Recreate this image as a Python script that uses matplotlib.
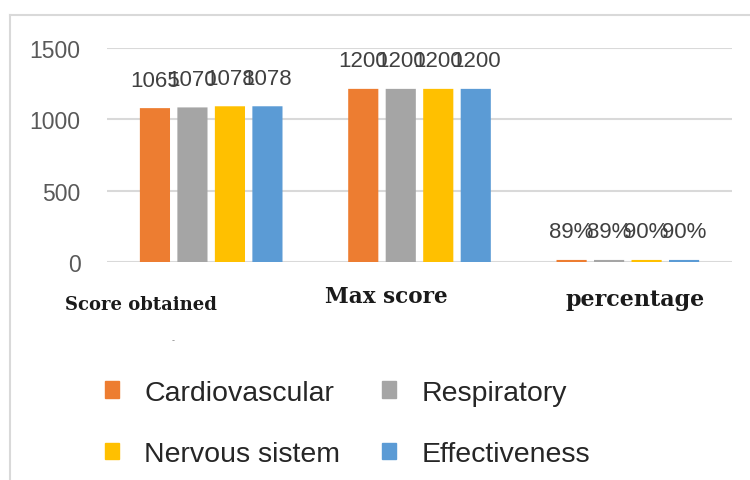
import matplotlib
matplotlib.use("Agg")
import matplotlib.pyplot as plt
from matplotlib.patches import Patch
from matplotlib.lines import Line2D
import numpy as np

# data
groups = ["Score obtained", "Max score", "percentage"]
series = ["Cardiovascular", "Respiratory", "Nervous sistem", "Effectiveness"]
colors = ["#ED7D31", "#A5A5A5", "#FFC000", "#5B9BD5"]
score_obtained = [1065, 1070, 1078, 1078]
max_score = [1200, 1200, 1200, 1200]
percentage = [0.89, 0.89, 0.90, 0.90]
yticks = [0, 500, 1000, 1500]

fig = plt.figure(figsize=(7.5, 4.81), dpi=100)
ax = fig.add_axes([0.1427, 0.4532, 0.8333, 0.4449])

x = np.arange(len(groups))
step = 0.18
width = 0.126
for i, name in enumerate(series):
    vals = [score_obtained[i], max_score[i], percentage[i]]
    xs = x + (i - 1.5) * step
    # thick edge keeps the tiny percentage bars visible on the 0-1500 scale
    ax.bar(xs, vals, width, color=colors[i], edgecolor=colors[i], linewidth=2.8,
           snap=False, zorder=3)
    for xx, v in zip(xs, vals):
        txt = f"{v:.0%}" if v < 1 else f"{v}"
        ax.annotate(txt, (xx, v), xytext=(0, 14), textcoords="offset points",
                    ha="center", va="bottom", fontsize=16, color="#404040",
                    family="Liberation Sans")

ax.set_xlim(-0.5, 2.5)
ax.set_ylim(0, 1500)
ax.set_yticks(yticks)
ax.set_yticklabels([str(t) for t in yticks], fontsize=16.5, color="#595959",
                   family="Liberation Sans")
ax.tick_params(axis="y", length=0, pad=19)
ax.set_xticks([])
ax.grid(axis="y", color="#D9D9D9", linewidth=1.5, zorder=0)
for s in ax.spines.values():
    s.set_visible(False)

# category names, set as separate text blocks
fig.text(65 / 750, 1 - 305 / 481, groups[0], ha="left", va="center", fontsize=13,
         family="DejaVu Serif", weight="bold", color="#1a1a1a")
fig.text(325 / 750, 1 - 297 / 481, groups[1], ha="left", va="center", fontsize=15.5,
         family="DejaVu Serif", weight="bold", color="#1a1a1a")
fig.text(565 / 750, 1 - 300 / 481, groups[2], ha="left", va="center", fontsize=16,
         family="DejaVu Serif", weight="bold", color="#1a1a1a")
fig.text(173 / 750, 1 - 341 / 481, "-", ha="center", va="center", fontsize=6, color="#888888")

# legend, two columns
handles = [Patch(facecolor=c, edgecolor=c) for c in colors]
order = [0, 2, 1, 3]
leg = fig.legend([handles[k] for k in order], [series[k] for k in order],
                 loc="upper left", bbox_to_anchor=(79 / 750, 1 - 355 / 481), ncol=2,
                 frameon=False, handlelength=0.5, handleheight=0.5, handletextpad=0.9,
                 columnspacing=1.45, labelspacing=1.25,
                 prop={"family": "Liberation Sans", "size": 20.5})
for t in leg.get_texts():
    t.set_color("#262626")

# outer frame lines
fig.add_artist(Line2D([10 / 750, 1], [1 - 16 / 481, 1 - 16 / 481], color="#D9D9D9", linewidth=1.5))
fig.add_artist(Line2D([10 / 750, 10 / 750], [0, 1 - 16 / 481], color="#D9D9D9", linewidth=1.5))

fig.savefig("out.png", dpi=100, facecolor="white")
